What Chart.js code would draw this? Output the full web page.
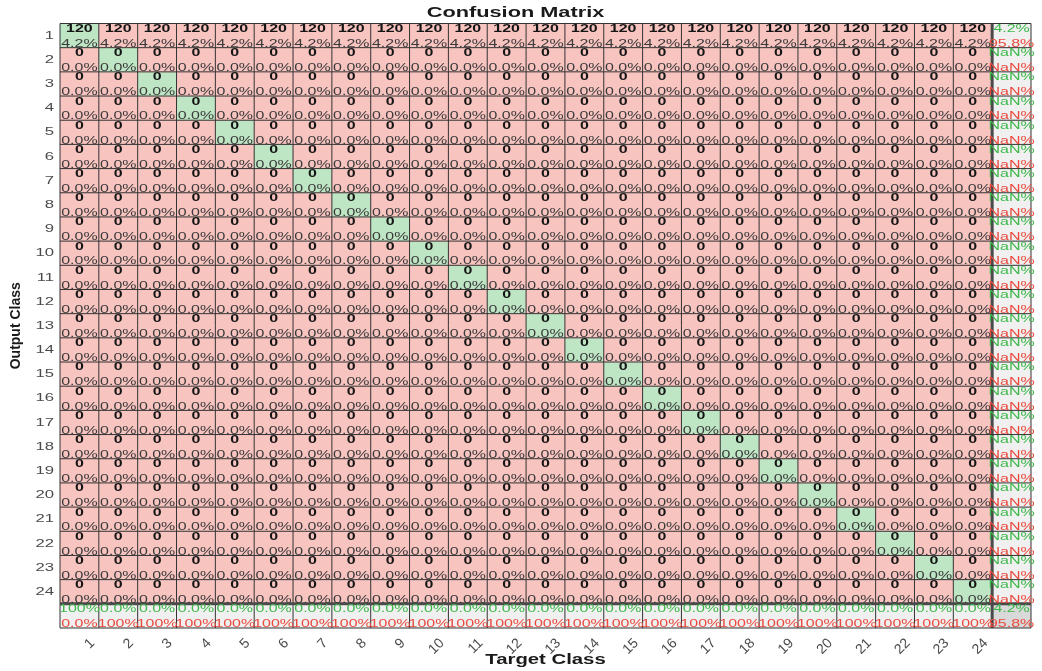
<!DOCTYPE html>
<html><head><meta charset="utf-8">
<script src="https://cdn.jsdelivr.net/npm/chart.js@4.4.1/dist/chart.umd.min.js"></script>
<style>html,body{margin:0;padding:0;background:#fff}#wrap{width:1042px;height:671px}</style>
</head>
<body><div id="wrap"><canvas id="c" width="1042" height="671"></canvas></div>
<script>
// ---- data ----
const classLabels = ['1','2','3','4','5','6','7','8','9','10','11','12','13','14','15','16','17','18','19','20','21','22','23','24'];
// rows = Output Class, columns = Target Class
const confusionCounts = [
  [120,120,120,120,120,120,120,120,120,120,120,120,120,120,120,120,120,120,120,120,120,120,120,120],
  [0,0,0,0,0,0,0,0,0,0,0,0,0,0,0,0,0,0,0,0,0,0,0,0],
  [0,0,0,0,0,0,0,0,0,0,0,0,0,0,0,0,0,0,0,0,0,0,0,0],
  [0,0,0,0,0,0,0,0,0,0,0,0,0,0,0,0,0,0,0,0,0,0,0,0],
  [0,0,0,0,0,0,0,0,0,0,0,0,0,0,0,0,0,0,0,0,0,0,0,0],
  [0,0,0,0,0,0,0,0,0,0,0,0,0,0,0,0,0,0,0,0,0,0,0,0],
  [0,0,0,0,0,0,0,0,0,0,0,0,0,0,0,0,0,0,0,0,0,0,0,0],
  [0,0,0,0,0,0,0,0,0,0,0,0,0,0,0,0,0,0,0,0,0,0,0,0],
  [0,0,0,0,0,0,0,0,0,0,0,0,0,0,0,0,0,0,0,0,0,0,0,0],
  [0,0,0,0,0,0,0,0,0,0,0,0,0,0,0,0,0,0,0,0,0,0,0,0],
  [0,0,0,0,0,0,0,0,0,0,0,0,0,0,0,0,0,0,0,0,0,0,0,0],
  [0,0,0,0,0,0,0,0,0,0,0,0,0,0,0,0,0,0,0,0,0,0,0,0],
  [0,0,0,0,0,0,0,0,0,0,0,0,0,0,0,0,0,0,0,0,0,0,0,0],
  [0,0,0,0,0,0,0,0,0,0,0,0,0,0,0,0,0,0,0,0,0,0,0,0],
  [0,0,0,0,0,0,0,0,0,0,0,0,0,0,0,0,0,0,0,0,0,0,0,0],
  [0,0,0,0,0,0,0,0,0,0,0,0,0,0,0,0,0,0,0,0,0,0,0,0],
  [0,0,0,0,0,0,0,0,0,0,0,0,0,0,0,0,0,0,0,0,0,0,0,0],
  [0,0,0,0,0,0,0,0,0,0,0,0,0,0,0,0,0,0,0,0,0,0,0,0],
  [0,0,0,0,0,0,0,0,0,0,0,0,0,0,0,0,0,0,0,0,0,0,0,0],
  [0,0,0,0,0,0,0,0,0,0,0,0,0,0,0,0,0,0,0,0,0,0,0,0],
  [0,0,0,0,0,0,0,0,0,0,0,0,0,0,0,0,0,0,0,0,0,0,0,0],
  [0,0,0,0,0,0,0,0,0,0,0,0,0,0,0,0,0,0,0,0,0,0,0,0],
  [0,0,0,0,0,0,0,0,0,0,0,0,0,0,0,0,0,0,0,0,0,0,0,0],
  [0,0,0,0,0,0,0,0,0,0,0,0,0,0,0,0,0,0,0,0,0,0,0,0]
];
const chartTitle = 'Confusion Matrix';
const xAxisTitle = 'Target Class';
const yAxisTitle = 'Output Class';

// ---- style ----
const FONT = "'Liberation Sans', Arial, sans-serif";
const STRETCH = 1.45;
const C_GREEN_CELL = '#bfe6c4', C_RED_CELL = '#f8c4c0', C_SUM = '#f0f0f0', C_CORNER = '#d9d9d9';
const C_GREEN_TXT = '#3fb84b', C_RED_TXT = '#ea4a3e';

const canvas = document.getElementById('c');
const ctx2d = canvas.getContext('2d');
const origFill = ctx2d.fillText;
ctx2d.fillText = function(text, x, y, maxWidth) {
  const m = this.getTransform();
  if (Math.abs(m.b) < 1e-6 && Math.abs(m.c) < 1e-6) {
    this.save(); this.translate(x, y); this.scale(STRETCH, 1);
    origFill.call(this, text, 0, 0); this.restore();
  } else {
    if (maxWidth !== undefined) origFill.call(this, text, x, y, maxWidth); else origFill.call(this, text, x, y);
  }
};

// ---- derived ----
const n = classLabels.length;
const total = confusionCounts.flat().reduce((a, b) => a + b, 0);
const xLabels = [...classLabels, ''];
function fmt(v) { if (!isFinite(v)) return 'NaN%'; if (Math.abs(v - 100) < 1e-9) return '100%'; return v.toFixed(1) + '%'; }
function cellInfo(r, c) {
  if (r < n && c < n) {
    const v = confusionCounts[r][c];
    return {bg: r === c ? C_GREEN_CELL : C_RED_CELL, t1: String(v), t2: fmt(v / total * 100), summary: false};
  }
  let correct, sum;
  if (r < n) { sum = confusionCounts[r].reduce((a, b) => a + b, 0); correct = confusionCounts[r][r]; }
  else if (c < n) { sum = confusionCounts.reduce((a, row) => a + row[c], 0); correct = confusionCounts[c][c]; }
  else { sum = total; correct = confusionCounts.reduce((a, row, i) => a + row[i], 0); }
  const g = correct / sum * 100;
  return {bg: (r === n && c === n) ? C_CORNER : C_SUM, t1: fmt(g), t2: fmt(100 - g), summary: true};
}

const datasets = [];
for (let r = 0; r <= n; r++) {
  datasets.push({
    data: xLabels.map(() => [r + 0.5, r + 1.5]),
    backgroundColor: xLabels.map((_, c) => cellInfo(r, c).bg),
    borderWidth: 0, grouped: false, barPercentage: 1, categoryPercentage: 1
  });
}

const cellPlugin = {
  id: 'cells',
  afterDatasetsDraw(chart) {
    const ctx = chart.ctx, xs = chart.scales.x, ys = chart.scales.y, ca = chart.chartArea;
    ctx.save();
    // grid lines
    for (let c = 0; c <= n + 1; c++) {
      const x = xs.getPixelForValue(c - 0.5);
      ctx.beginPath(); ctx.lineWidth = (c === n) ? 3 : 1; ctx.strokeStyle = (c === n) ? '#4a4a4a' : '#333333';
      ctx.moveTo(x, ca.top); ctx.lineTo(x, ca.bottom); ctx.stroke();
    }
    for (let r = 0; r <= n + 1; r++) {
      const y = ys.getPixelForValue(r + 0.5);
      ctx.beginPath(); ctx.lineWidth = (r === n) ? 3 : 1; ctx.strokeStyle = (r === n) ? '#4a4a4a' : '#333333';
      ctx.moveTo(ca.left, y); ctx.lineTo(ca.right, y); ctx.stroke();
    }
    // texts
    ctx.textAlign = 'center'; ctx.textBaseline = 'alphabetic';
    for (let r = 0; r <= n; r++) {
      const top = ys.getPixelForValue(r + 0.5), h = ys.getPixelForValue(r + 1.5) - top;
      for (let c = 0; c <= n; c++) {
        const cx = xs.getPixelForValue(c);
        const info = cellInfo(r, c);
        if (info.summary) {
          ctx.font = '11px ' + FONT;
          ctx.fillStyle = C_GREEN_TXT; ctx.fillText(info.t1, cx, top + h * 0.35);
          ctx.fillStyle = C_RED_TXT; ctx.fillText(info.t2, cx, top + h * 0.965);
        } else {
          ctx.font = 'bold 11px ' + FONT;
          ctx.fillStyle = '#141414'; ctx.fillText(info.t1, cx, top + h * 0.35);
          ctx.font = '11px ' + FONT;
          ctx.fillStyle = '#3a3a3a'; ctx.fillText(info.t2, cx, top + h * 0.965);
        }
      }
    }
    ctx.restore();
  }
};

new Chart(canvas, {
  type: 'bar',
  data: {labels: xLabels, datasets},
  options: {
    responsive: false, animation: false, devicePixelRatio: 1,
    layout: {padding: {left: 0, right: 11, top: 0, bottom: 0}},
    plugins: {
      legend: {display: false}, tooltip: {enabled: false},
      title: {display: true, text: chartTitle, color: '#1a1a1a', font: {family: FONT, size: 15, weight: 'bold'}, padding: {top: 3.8, bottom: 1.7}}
    },
    scales: {
      x: {
        type: 'category', offset: true,
        grid: {display: false, drawTicks: false}, border: {display: false},
        ticks: {minRotation: 45, maxRotation: 45, autoSkip: false, color: '#4a4a4a', font: {family: FONT, size: 14}, padding: 7, labelOffset: 13},
        title: {display: true, text: xAxisTitle, color: '#1a1a1a', font: {family: FONT, size: 14, weight: 'bold'}, padding: {top: 0, bottom: 2.1}},
        afterFit: s => { s.height = 43; }
      },
      y: {
        type: 'linear', reverse: true, min: 0.5, max: n + 1.5,
        afterBuildTicks: s => { s.ticks = classLabels.map((_, i) => ({value: i + 1})); },
        grid: {display: false, drawTicks: false}, border: {display: false},
        ticks: {color: '#4a4a4a', font: {family: FONT, size: 11.5}, padding: 6, callback: v => classLabels[v - 1] ?? ''},
        title: {display: true, text: yAxisTitle, color: '#1a1a1a', font: {family: FONT, size: 14, weight: 'bold'}, padding: {top: 7.6, bottom: 0}},
        afterFit: s => { s.width = 60; }
      }
    }
  },
  plugins: [cellPlugin]
});
</script>
</body></html>
